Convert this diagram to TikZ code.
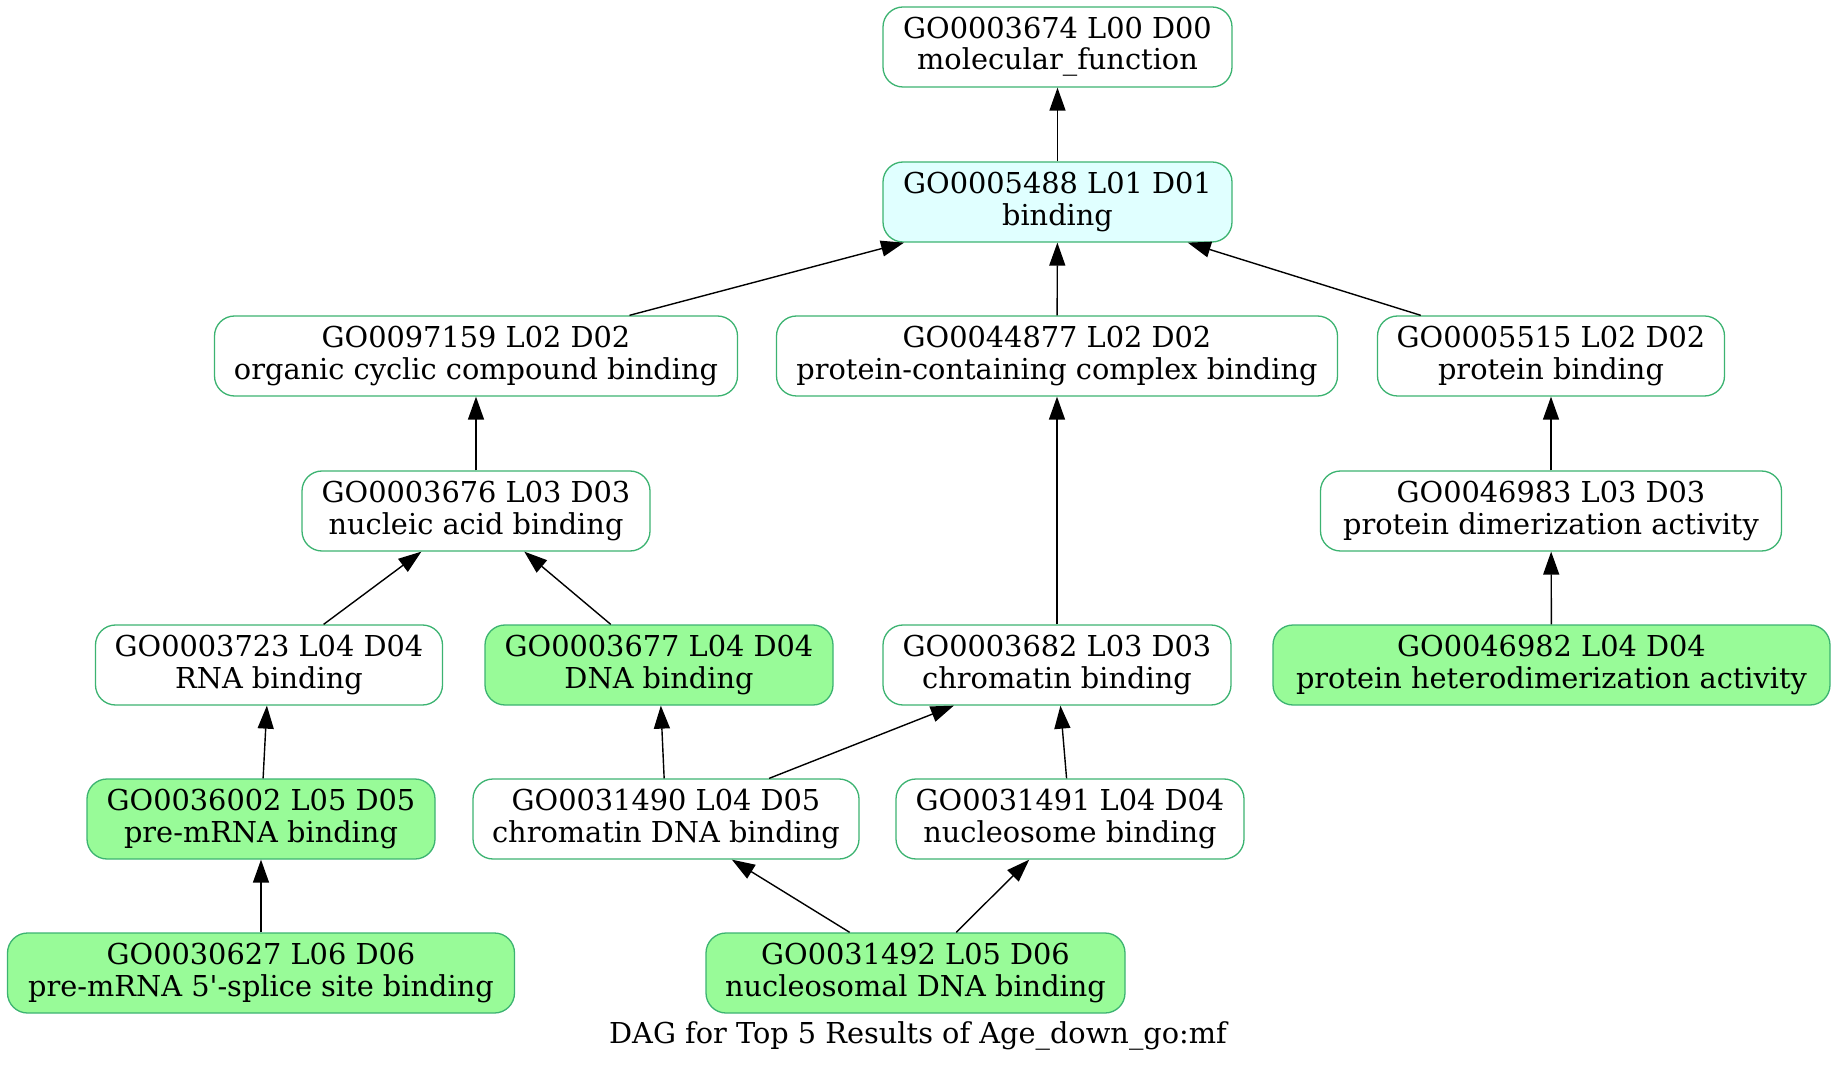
\documentclass[tikz,border=0pt]{standalone}
\usepackage{fontspec}
\setmainfont{DejaVu Serif}[Ligatures=TeXOff]
\usetikzlibrary{arrows.meta}
\definecolor{bord}{HTML}{3CB371}
\definecolor{pgreen}{HTML}{98FB98}
\definecolor{lcyan}{HTML}{E0FFFF}
\begin{document}
\begin{tikzpicture}[x=0.5pt,y=-0.5pt,
  go/.style={draw=bord, line width=0.65pt, rounded corners=10pt, minimum height=40pt,
    align=center, inner sep=0pt, font=\fontsize{14.4}{15.6}\selectfont, fill=white},
  hit/.style={go, fill=pgreen},
  topnode/.style={go, fill=lcyan},
  edgearrow/.style={-{Triangle[length=11.5pt,width=8pt]}, line width=0.7pt}]
\useasboundingbox (0,0) rectangle (1837,1069);
\node[go, minimum width=174.5pt] (n1) at (1057.5,47) {GO0003674 L00 D00\\molecular\_function};
\node[topnode, minimum width=174.5pt] (n2) at (1057.5,202) {GO0005488 L01 D01\\binding};
\node[go, minimum width=261.5pt] (n3) at (476,356) {GO0097159 L02 D02\\organic cyclic compound binding};
\node[go, minimum width=280.5pt] (n4) at (1057,356) {GO0044877 L02 D02\\protein-containing complex binding};
\node[go, minimum width=173.5pt] (n5) at (1551,356) {GO0005515 L02 D02\\protein binding};
\node[go, minimum width=174pt] (n6) at (476,511) {GO0003676 L03 D03\\nucleic acid binding};
\node[go, minimum width=230.5pt] (n7) at (1551,511) {GO0046983 L03 D03\\protein dimerization activity};
\node[go, minimum width=173.5pt] (n8) at (269,665) {GO0003723 L04 D04\\RNA binding};
\node[hit, minimum width=174pt] (n9) at (659,665) {GO0003677 L04 D04\\DNA binding};
\node[go, minimum width=174pt] (n10) at (1057,665) {GO0003682 L03 D03\\chromatin binding};
\node[hit, minimum width=278.5pt] (n11) at (1551.5,665) {GO0046982 L04 D04\\protein heterodimerization activity};
\node[hit, minimum width=174pt] (n12) at (261,819) {GO0036002 L05 D05\\pre-mRNA binding};
\node[go, minimum width=193pt] (n13) at (666,819) {GO0031490 L04 D05\\chromatin DNA binding};
\node[go, minimum width=174pt] (n14) at (1070,819) {GO0031491 L04 D04\\nucleosome binding};
\node[hit, minimum width=253.5pt] (n15) at (261,973) {GO0030627 L06 D06\\pre-mRNA 5'-splice site binding};
\node[hit, minimum width=209.5pt] (n16) at (915.5,973) {GO0031492 L05 D06\\nucleosomal DNA binding};
\node[anchor=base, font=\fontsize{14.4}{15.6}\selectfont, inner sep=0pt] (cap) at (918,1043) {DAG for Top 5 Results of Age\_down\_go:mf};
\draw[edgearrow] (n2) -- (n1);
\draw[edgearrow] (n3) -- (n2);
\draw[edgearrow] (n4) -- (n2);
\draw[edgearrow] (n5) -- (n2);
\draw[edgearrow] (n6) -- (n3);
\draw[edgearrow] (n7) -- (n5);
\draw[edgearrow] (n8) -- (n6);
\draw[edgearrow] (n9) -- (n6);
\draw[edgearrow] (n10) -- (n4);
\draw[edgearrow] (n11) -- (n7);
\draw[edgearrow] (n12) -- (n8);
\draw[edgearrow] (n13) -- (n9);
\draw[edgearrow] (n13) -- (n10);
\draw[edgearrow] (n14) -- (n10);
\draw[edgearrow] (n15) -- (n12);
\draw[edgearrow] (n16) -- (n13);
\draw[edgearrow] (n16) -- (n14);
\end{tikzpicture}
\end{document}
